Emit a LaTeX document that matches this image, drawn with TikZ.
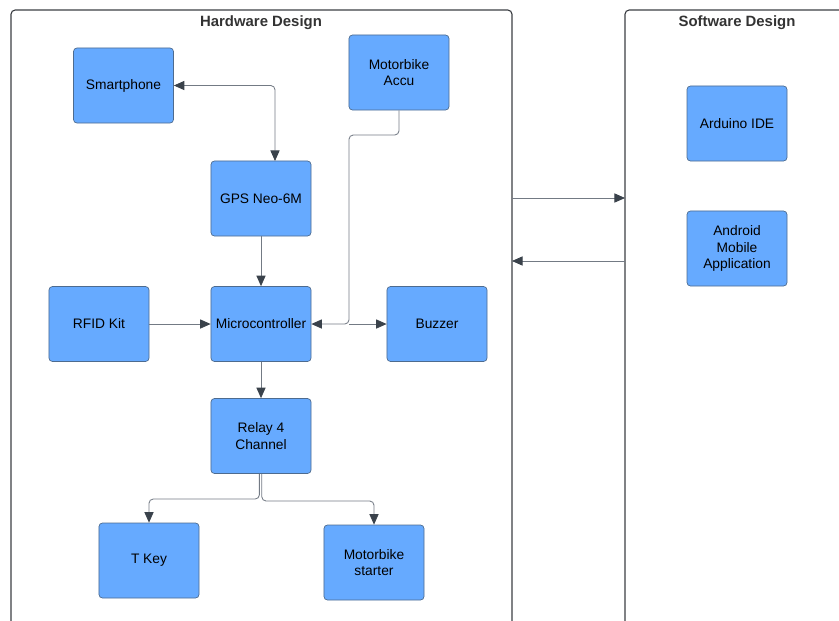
\documentclass[tikz,border=0pt]{standalone}
\usepackage{fontspec}
\setmainfont{Liberation Sans}
\usetikzlibrary{arrows.meta}

\definecolor{boxblue}{HTML}{66AAFF}
\definecolor{boxline}{HTML}{4D6B8F}
\definecolor{wire}{HTML}{737A84}
\definecolor{tipgray}{HTML}{3A424B}
\definecolor{frameline}{HTML}{3C3F44}

\tikzset{
  part/.style={draw=boxline, fill=boxblue, rounded corners=2.5pt, line width=0.5pt,
    minimum width=2.5cm, minimum height=1.875cm, align=center,
    font=\fontsize{9.8}{11.6}\selectfont},
  frame/.style={draw=frameline, line width=0.8pt, rounded corners=3pt},
  title/.style={font=\bfseries\fontsize{10.6}{12}\selectfont, text=black!80},
  wirelink/.style={draw=wire, line width=0.6pt, rounded corners=3pt,
    -{Triangle[length=7.5pt,width=6.5pt,color=tipgray]}},
  bothlink/.style={wirelink,
    {Triangle[length=7.5pt,width=6.5pt,color=tipgray]}-{Triangle[length=7.5pt,width=6.5pt,color=tipgray]}}
}

\begin{document}
\begin{tikzpicture}[x=0.025cm,y=-0.025cm]
  \useasboundingbox (0,0) rectangle (839,620);

  % the two design areas
  \draw[frame] (11,640) |- (512,10) -- (512,640);
  \draw[frame] (625,640) |- (860,10);
  \node[title] (hwtitle) at (261,23) {Hardware Design};
  \node[title] (swtitle) at (737,23) {Software Design};

  % hardware parts
  \node[part] (phone) at (123.5,85.5) {Smartphone};
  \node[part] (accu) at (399,72.5) {Motorbike\\Accu};
  \node[part] (gps) at (261,198.5) {GPS Neo-6M};
  \node[part] (rfid) at (99,324) {RFID Kit};
  \node[part] (mcu) at (261,324) {Microcontroller};
  \node[part] (buzzer) at (437,324) {Buzzer};
  \node[part] (relay) at (261,436) {Relay 4\\Channel};
  \node[part] (tkey) at (149,560.5) {T Key};
  \node[part] (starter) at (374,562.5) {Motorbike\\starter};

  % software parts
  \node[part] (ide) at (737,123.5) {Arduino IDE};
  \node[part] (android) at (737,248.5) {Android\\Mobile\\Application};

  % connections
  \draw[bothlink] (phone.east) -| (275,161);
  \draw[wirelink] (gps.south) -- (mcu.north);
  \draw[wirelink] (rfid.east) -- (mcu.west);
  \draw[wirelink] (accu.south) |- (349,135) |- (mcu.east);
  \draw[wirelink] (349,324) -- (buzzer.west);
  \draw[wirelink] (mcu.south) -- (relay.north);
  \draw[wirelink] ([xshift=-0.04cm]relay.south) |- (200,499) -| (tkey.north);
  \draw[wirelink] ([xshift=0.02cm]relay.south) |- (320,501) -| (starter.north);

  % between the two areas
  \draw[wirelink] (512,198) -- (625,198);
  \draw[wirelink] (625,261) -- (512,261);
\end{tikzpicture}
\end{document}
